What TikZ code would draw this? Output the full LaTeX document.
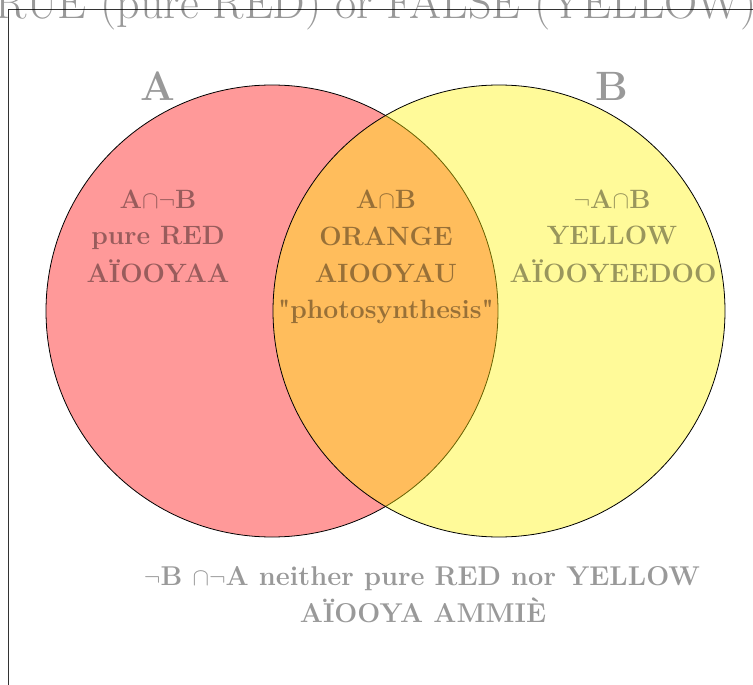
\documentclass[tikz,border=0pt]{standalone}
\usepackage{fontspec}
\newfontfamily\qfont{Latin Modern Roman}[Ligatures=TeXOff]
\newcommand{\sq}{{\qfont\bfseries\symbol{34}}}
\begin{document}
\begin{tikzpicture}[x=1pt,y=-1pt,
  regiontext/.style={text=black,text opacity=0.4,inner sep=0pt,anchor=base,
    font=\bfseries\fontsize{26.5}{37}\selectfont},
  outtext/.style={regiontext,font=\bfseries\fontsize{27.2}{37}\selectfont},
  biglabel/.style={text=black,text opacity=0.4,inner sep=0pt,anchor=base,
    font=\bfseries\fontsize{41}{50}\selectfont},
  titletext/.style={text=black,text opacity=0.4,inner sep=0pt,anchor=base west,
    font=\fontsize{46}{50}\selectfont},
  setA/.style={draw=black,line width=0.8pt,fill=red,fill opacity=0.4,draw opacity=1},
  setB/.style={draw=black,line width=0.8pt,fill=yellow,fill opacity=0.4,draw opacity=1},
  frameline/.style={draw=black!80,line width=1pt}]
\useasboundingbox (0,0) rectangle (753,685);
\clip (0,0) rectangle (753,685);
% frame
\coordinate (fbl) at (8,700);
\coordinate (ftl) at (8,10);
\coordinate (ftr) at (770,10);
\draw[frameline] (fbl) -- (ftl) -- (ftr);
% title
\node[titletext] (title) at (-35,19) {TRUE (pure RED) or FALSE (YELLOW)};
% sets
\coordinate (cA) at (272,311);
\coordinate (cB) at (499,311);
\path[setA] (cA) circle[radius=226pt];
\path[setB] (cB) circle[radius=226pt];
% labels
\node[biglabel] (labA) at (158,101) {A};
\node[biglabel] (labB) at (612,101) {B};
% left region
\node[regiontext] (l1) at (158,208) {A$\cap\neg$B};
\node[regiontext] (l2) at (158,244) {pure RED};
\node[regiontext] (l3) at (158,282) {AÏOOYAA};
% middle region
\node[regiontext] (m1) at (386,208) {A$\cap$B};
\node[regiontext] (m2) at (386,245) {ORANGE};
\node[regiontext] (m3) at (386,282) {AIOOYAU};
\node[regiontext] (m4) at (386,318) {\sq photosynthesis\sq};
% right region
\node[regiontext] (r1) at (612,208) {$\neg$A$\cap$B};
\node[regiontext] (r2) at (612,244) {YELLOW};
\node[regiontext] (r3) at (613,282) {AÏOOYEEDOO};
% outside
\node[outtext] (o1) at (422,585) {$\neg$B $\cap\neg$A neither pure RED nor YELLOW};
\node[outtext] (o2) at (423,622) {AÏOOYA AMMIÈ};
\end{tikzpicture}
\end{document}
